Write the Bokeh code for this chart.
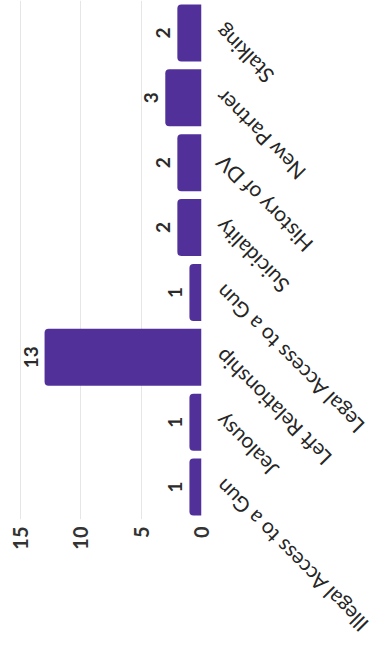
import math
from bokeh.plotting import figure
from bokeh.models import ColumnDataSource, FactorRange, Range1d, FixedTicker, LabelSet
from bokeh.core.properties import value
from bokeh.embed import file_html
from bokeh.resources import INLINE

categories = ["Illegal Access to a Gun", "Jealousy", "Left Relationship",
              "Legal Access to a Gun", "Suicidality", "History of DV",
              "New Partner", "Stalking"]
counts = [1, 1, 13, 1, 2, 2, 3, 2]
value_ticks = [0, 5, 10, 15]

src = ColumnDataSource(dict(cat=categories, val=counts, txt=[str(v) for v in counts],
                            zero=[0] * len(counts)))

p = figure(width=381, height=648, output_backend="svg", toolbar_location=None,
           y_range=FactorRange(factors=categories, range_padding=0),
           x_range=Range1d(16.65, 0))
p.min_border_left = 0
p.min_border_top = 0
p.min_border_right = 180
p.min_border_bottom = 129
p.outline_line_color = None
p.background_fill_color = "white"
p.border_fill_color = "white"

p.hbar(y="cat", left=0, right="val", height=0.88, source=src,
       fill_color="#52309a", line_color=None, border_radius=(4, 0, 0, 4))

p.yaxis.visible = False
p.ygrid.grid_line_color = None
p.xgrid.ticker = FixedTicker(ticks=value_ticks)
p.xgrid.grid_line_color = "#e6e6e6"

ax = p.xaxis[0]
ax.ticker = FixedTicker(ticks=value_ticks)
ax.axis_line_color = None
ax.major_tick_line_color = None
ax.minor_tick_line_color = None
ax.major_label_orientation = math.pi / 2
ax.major_label_standoff = 1
ax.major_label_text_font = "Lato"
ax.major_label_text_font_size = "20px"
ax.major_label_text_font_style = "bold"
ax.major_label_text_color = "#333333"

vals = LabelSet(x="val", y="cat", text="txt", source=src, x_offset=-14,
                angle=math.pi / 2, text_align="center", text_baseline="middle",
                text_font=value("Lato"), text_font_size="19px", text_font_style="bold",
                text_color="#2b2b2b")
p.add_layout(vals)

p.text(x="zero", y="cat", text="cat", source=src, x_offset=17, y_offset=-4,
       angle=3 * math.pi / 4, text_align="right", text_baseline="middle",
       text_font=value("Lato"), text_font_size="21px", text_color="#262626",
       level="overlay")

open("out.html", "w").write(file_html(p, INLINE))
